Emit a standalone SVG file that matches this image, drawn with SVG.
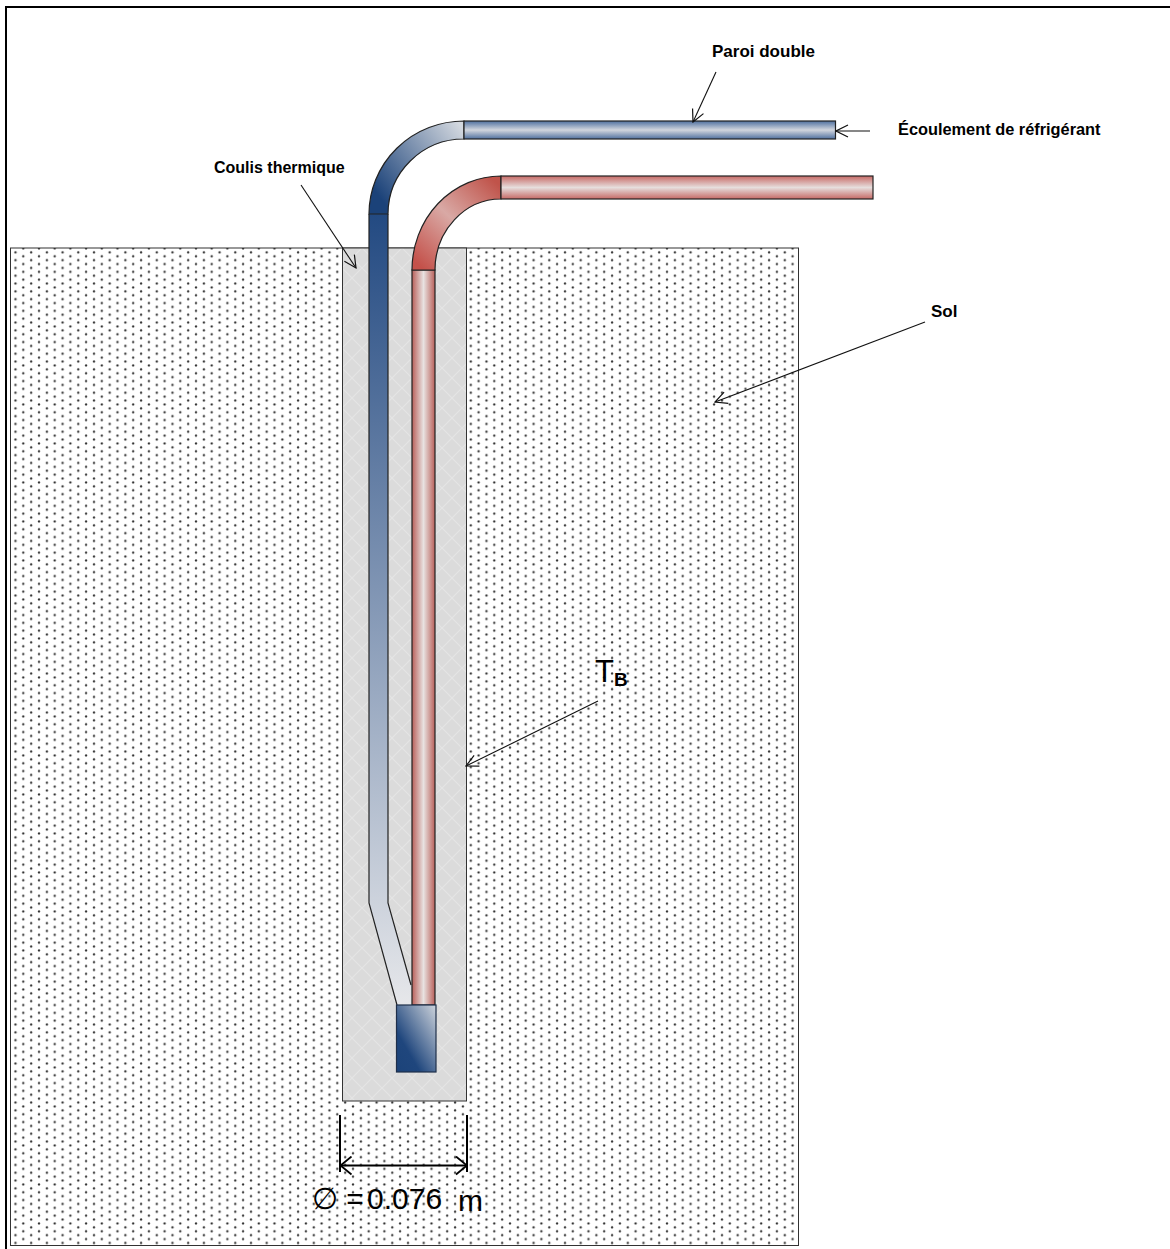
<svg xmlns="http://www.w3.org/2000/svg" width="1170" height="1249" viewBox="0 0 1170 1249">
<style>
.lbl{font-family:"Liberation Sans",Arial,sans-serif;font-size:17px;font-weight:bold;fill:#000}
.big{font-family:"Liberation Sans",Arial,sans-serif;font-size:30px;fill:#000}
.pipe{stroke:#222;stroke-width:1.2}
.lead{fill:none;stroke:#111;stroke-width:1.1}
</style>
<defs>
<pattern id="dots" width="15.7" height="7.8" patternUnits="userSpaceOnUse" x="10.5" y="248">
<rect width="15.7" height="7.8" fill="#fff"/>
<circle cx="12.8" cy="0.4" r="1.15" fill="#333"/>
<circle cx="12.8" cy="8.2" r="1.15" fill="#333"/>
<circle cx="5" cy="4.3" r="1.15" fill="#333"/>
</pattern>
<pattern id="hatch" width="20" height="20" patternUnits="userSpaceOnUse" x="342" y="248">
<rect width="20" height="20" fill="#dbdbdb"/>
<path d="M0 0L20 20M20 0L0 20" stroke="#e5e5e5" stroke-width="1.2"/>
</pattern>
<linearGradient id="blueH" x1="0" y1="0" x2="0" y2="1">
<stop offset="0" stop-color="#4f709f"/><stop offset=".5" stop-color="#d2d6de"/><stop offset="1" stop-color="#4f709f"/>
</linearGradient>
<linearGradient id="redH" x1="0" y1="0" x2="0" y2="1">
<stop offset="0" stop-color="#c76a66"/><stop offset=".5" stop-color="#e6dedd"/><stop offset="1" stop-color="#c76a66"/>
</linearGradient>
<linearGradient id="redV" x1="0" y1="0" x2="1" y2="0">
<stop offset="0" stop-color="#b9605a"/><stop offset=".5" stop-color="#e8e2e1"/><stop offset="1" stop-color="#b9605a"/>
</linearGradient>
<linearGradient id="blueV" gradientUnits="userSpaceOnUse" x1="0" y1="214" x2="0" y2="1004">
<stop offset="0" stop-color="#234a82"/><stop offset="1" stop-color="#e6e7ea"/>
</linearGradient>
<linearGradient id="blueA" gradientUnits="userSpaceOnUse" x1="378" y1="195" x2="464" y2="130">
<stop offset="0" stop-color="#1b4279"/><stop offset="1" stop-color="#d3d8df"/>
</linearGradient>
<linearGradient id="redA" gradientUnits="userSpaceOnUse" x1="424" y1="270" x2="501" y2="187">
<stop offset="0" stop-color="#c4514a"/><stop offset=".5" stop-color="#d9a9a5"/><stop offset="1" stop-color="#c0534a"/>
</linearGradient>
<linearGradient id="boxG" x1="0" y1="1" x2="1" y2="0">
<stop offset="0" stop-color="#1c4379"/><stop offset=".3" stop-color="#1f467d"/><stop offset="1" stop-color="#cdd3db"/>
</linearGradient>
<marker id="open" viewBox="0 0 14 14" refX="13" refY="7" markerWidth="14" markerHeight="14" markerUnits="userSpaceOnUse" orient="auto-start-reverse">
<path d="M1 1L13 7L1 13" fill="none" stroke="#111" stroke-width="1.2"/>
</marker>
<marker id="dim" viewBox="0 0 16 20" refX="15" refY="10" markerWidth="16" markerHeight="20" markerUnits="userSpaceOnUse" orient="auto-start-reverse">
<path d="M4 1L15 10L4 19" fill="none" stroke="#000" stroke-width="1.800"/>
</marker>
</defs>
<path id="frame" d="M6 1249V7H1170" fill="none" stroke="#000" stroke-width="2"/>
<g id="sol"><rect x="10.5" y="248" width="788" height="997.5" fill="url(#dots)" stroke="#333" stroke-width="1"/></g>
<g id="coulis"><rect x="342.5" y="248" width="124" height="853" fill="url(#hatch)" stroke="#333" stroke-width="1"/></g>
<g id="tuyau-froid">
<path d="M369 214V903L397 1005H411V985L388 903V214Z" fill="url(#blueV)"/>
<path d="M369 214V903L397 1005M411 985L388 903V214" fill="none" stroke="#222" stroke-width="1.2"/>
<path class="pipe" d="M369 214A95 93 0 0 1 464 121V139A76 75 0 0 0 388 214Z" fill="url(#blueA)"/>
<rect class="pipe" x="464" y="121" width="371.500" height="18" fill="url(#blueH)"/>
</g>
<g id="tuyau-chaud">
<rect class="pipe" x="412" y="270" width="23" height="735" fill="url(#redV)"/>
<path class="pipe" d="M412 270A89 94 0 0 1 501 176V199A66 71 0 0 0 435 270Z" fill="url(#redA)"/>
<rect class="pipe" x="501" y="176" width="372" height="23" fill="url(#redH)"/>
</g>
<g id="base"><rect x="396.500" y="1005" width="39.500" height="67" fill="url(#boxG)" stroke="#1f2f4a" stroke-width="1.2"/></g>
<g id="connecteurs">
<path class="lead" d="M716 72L693 122" marker-end="url(#open)"/>
<path class="lead" d="M870 131H836" marker-end="url(#open)"/>
<path class="lead" d="M301 185L356 268" marker-end="url(#open)"/>
<path class="lead" d="M925 322L715 402" marker-end="url(#open)"/>
<path class="lead" d="M598 701L466 766" marker-end="url(#open)"/>
<path d="M340 1115V1172M467 1115V1172" fill="none" stroke="#000" stroke-width="2"/>
<path d="M340.500 1165.500H467" fill="none" stroke="#000" stroke-width="2" marker-start="url(#dim)" marker-end="url(#dim)"/>
</g>
<g id="labels">
<text class="lbl" x="712" y="57">Paroi double</text>
<text class="lbl" x="898" y="135" style="font-size:16.350px">Écoulement de réfrigérant</text>
<text class="lbl" x="214" y="173" style="font-size:16px">Coulis thermique</text>
<text class="lbl" x="931" y="317">Sol</text>
<text class="big" x="595" y="682" style="font-size:31px">T</text>
<text class="lbl" x="614" y="686" style="font-size:19px">B</text>
<text class="big" x="312" y="1209">∅ =<tspan x="367">0.076</tspan><tspan x="458" y="1211">m</tspan></text>
</g>
</svg>
